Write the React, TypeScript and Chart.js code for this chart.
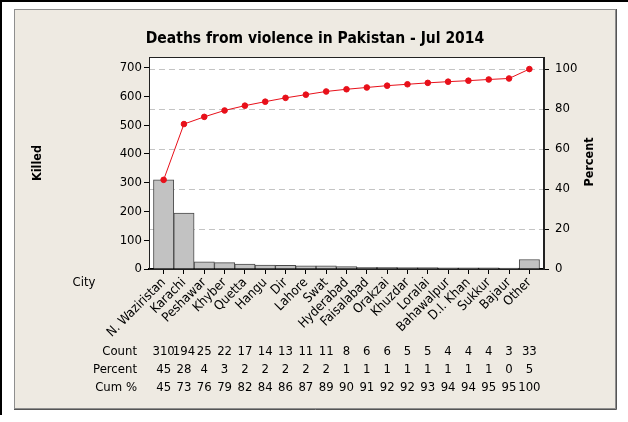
import React, { useEffect, useRef } from "react";
import { Chart, registerables } from "chart.js";

Chart.register(...registerables);

const cities = [
  "N. Waziristan", "Karachi", "Peshawar", "Khyber", "Quetta", "Hangu", "Dir",
  "Lahore", "Swat", "Hyderabad", "Faisalabad", "Orakzai", "Khuzdar", "Loralai",
  "Bahawalpur", "D.I. Khan", "Sukkur", "Bajaur", "Other",
];
const counts = [310, 194, 25, 22, 17, 14, 13, 11, 11, 8, 6, 6, 5, 5, 4, 4, 4, 3, 33];
const percentLabels = [45, 28, 4, 3, 2, 2, 2, 2, 2, 1, 1, 1, 1, 1, 1, 1, 1, 0, 5];
const cumLabels = [45, 73, 76, 79, 82, 84, 86, 87, 89, 90, 91, 92, 92, 93, 94, 94, 95, 95, 100];
const cumPercent = [44.6, 72.5, 76.1, 79.3, 81.7, 83.7, 85.6, 87.2, 88.8, 89.9, 90.8, 91.7, 92.4, 93.1, 93.7, 94.2, 94.8, 95.3, 100];
const leftTicks = [0, 100, 200, 300, 400, 500, 600, 700];
const rightTicks = [0, 20, 40, 60, 80, 100];
const rowNames = ["Count", "Percent", "Cum %"];

const TITLE = "Deaths from violence in Pakistan - Jul 2014";
const FONT = '"DejaVu Sans Condensed", "DejaVu Sans", sans-serif';
const W = 628;
const H = 422;

export default function App() {
  const ref = useRef<HTMLCanvasElement | null>(null);

  useEffect(() => {
    const canvas = ref.current;
    if (!canvas) return;

    const decor = {
      id: "decor",
      beforeDraw(chart: any) {
        const ctx = chart.ctx;
        const a = chart.chartArea;
        ctx.save();
        ctx.fillStyle = "#ffffff";
        ctx.fillRect(0, 0, W, H);
        ctx.fillStyle = "#000000";
        ctx.fillRect(0, 0, W, 2);
        ctx.fillRect(0, 0, 2, 415);
        ctx.fillStyle = "#eeeae2";
        ctx.fillRect(14, 9, 602, 400);
        ctx.strokeStyle = "#8f8f8f";
        ctx.lineWidth = 1;
        ctx.strokeRect(14.5, 9.5, 601, 399);
        ctx.strokeStyle = "#555555";
        ctx.beginPath();
        ctx.moveTo(14, 409.5);
        ctx.lineTo(616.5, 409.5);
        ctx.lineTo(616.5, 9);
        ctx.stroke();
        ctx.fillStyle = "#ffffff";
        ctx.fillRect(a.left, a.top, a.right - a.left, a.bottom - a.top);
        ctx.restore();
      },
      afterDraw(chart: any) {
        const ctx = chart.ctx;
        const a = chart.chartArea;
        const xs = chart.scales.x;
        ctx.save();
        // frame
        ctx.strokeStyle = "#222222";
        ctx.lineWidth = 1;
        ctx.strokeRect(a.left + 0.5, a.top + 0.5, a.right - a.left - 1, a.bottom - a.top);
        // title
        ctx.fillStyle = "#000000";
        ctx.font = `bold 15.5px ${FONT}`;
        ctx.textAlign = "center";
        ctx.textBaseline = "middle";
        ctx.fillText(TITLE, 315, 39);
        // axis titles
        ctx.font = `bold 12.5px ${FONT}`;
        ctx.save();
        ctx.translate(38, 163);
        ctx.rotate(-Math.PI / 2);
        ctx.fillText("Killed", 0, 0);
        ctx.restore();
        ctx.save();
        ctx.translate(590, 162);
        ctx.rotate(-Math.PI / 2);
        ctx.fillText("Percent", 0, 0);
        ctx.restore();
        ctx.font = `13px ${FONT}`;
        ctx.fillText("City", 84, 283);
        // table
        const rows = [counts, percentLabels, cumLabels];
        const rowY = [352, 370, 388];
        rows.forEach((vals, r) => {
          ctx.textAlign = "right";
          ctx.fillText(rowNames[r], 137, rowY[r]);
          ctx.textAlign = "center";
          vals.forEach((v, i) => {
            ctx.fillText(String(v), xs.getPixelForValue(i), rowY[r]);
          });
        });
        ctx.restore();
      },
    };

    const chart = new Chart(canvas, {
      type: "bar",
      data: {
        datasets: [
          {
            type: "line",
            data: cumPercent.map((v, i) => ({ x: i, y: v })),
            yAxisID: "y1",
            xAxisID: "x",
            borderColor: "#e8101a",
            backgroundColor: "#e8101a",
            pointBackgroundColor: "#e8101a",
            pointBorderColor: "#e8101a",
            pointRadius: 2.8,
            borderWidth: 1,
            order: 1,
          } as any,
          {
            type: "bar",
            data: counts.map((v, i) => ({ x: i, y: v })),
            yAxisID: "y",
            xAxisID: "x",
            backgroundColor: "#c2c2c2",
            borderColor: "#4a4a4a",
            borderWidth: 1,
            barPercentage: 1,
            categoryPercentage: 1,
            order: 2,
          } as any,
        ],
      },
      options: {
        responsive: false,
        animation: false,
        devicePixelRatio: 1,
        layout: { padding: { top: 57, left: 0, right: 0, bottom: 0 } },
        plugins: {
          legend: { display: false },
          tooltip: { enabled: false },
          title: { display: false },
        },
        scales: {
          x: {
            type: "linear",
            position: "bottom",
            offset: false,
            min: -0.72,
            max: 18.72,
            afterBuildTicks: (s: any) => {
              s.ticks = cities.map((_, i) => ({ value: i }));
            },
            afterFit: (s: any) => {
              s.height = H - 269;
            },
            ticks: {
              autoSkip: false,
              minRotation: 45,
              maxRotation: 45,
              color: "#000000",
              font: { family: FONT, size: 13 },
              padding: 1,
              callback: (v: any) => cities[Math.round(Number(v))],
            },
            grid: {
              offset: false,
              drawOnChartArea: false,
              drawTicks: true,
              tickLength: 5,
              tickColor: "#000000",
              color: "#000000",
            },
            border: { display: true, color: "#000000", width: 2 },
          },
          y: {
            type: "linear",
            position: "left",
            min: 0,
            max: 737,
            afterBuildTicks: (s: any) => {
              s.ticks = leftTicks.map((v) => ({ value: v }));
            },
            afterFit: (s: any) => {
              s.width = 149;
            },
            ticks: {
              color: "#000000",
              font: { family: FONT, size: 13 },
              padding: 2,
            },
            grid: {
              drawOnChartArea: false,
              drawTicks: true,
              tickLength: 5,
              tickColor: "#000000",
            },
            border: { display: true, color: "#222222", width: 1 },
          },
          y1: {
            type: "linear",
            position: "right",
            min: 0,
            max: 106.04,
            afterBuildTicks: (s: any) => {
              s.ticks = rightTicks.map((v) => ({ value: v }));
            },
            afterFit: (s: any) => {
              s.width = W - 544;
            },
            ticks: {
              color: "#000000",
              font: { family: FONT, size: 13 },
              padding: 6,
            },
            grid: {
              drawOnChartArea: true,
              drawTicks: true,
              tickLength: 5,
              tickColor: "#000000",
              color: (c: any) => (c.tick && c.tick.value === 0 ? "rgba(0,0,0,0)" : "#c4c4c4"),
              lineWidth: 1,
            },
            border: { display: true, color: "#222222", width: 1, dash: [6, 4] },
          },
        },
      } as any,
      plugins: [decor],
    });

    return () => chart.destroy();
  }, []);

  return (
    <div style={{ position: "absolute", left: 0, top: 0, width: W, height: H }}>
      <canvas ref={ref} width={W} height={H} style={{ width: W, height: H, display: "block" }} />
    </div>
  );
}
